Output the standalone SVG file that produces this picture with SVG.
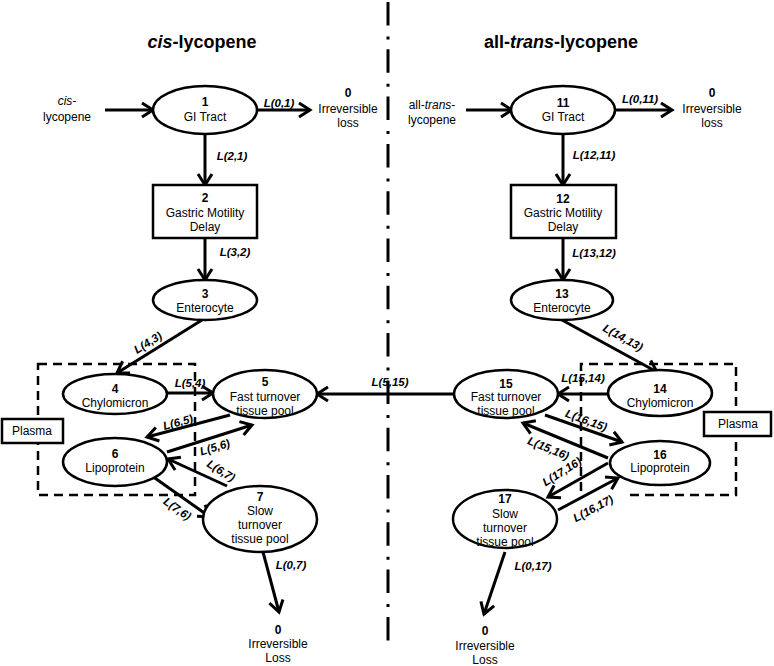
<svg xmlns="http://www.w3.org/2000/svg" width="774" height="666" viewBox="0 0 774 666">
<style>
text{font-family:"Liberation Sans",Arial,sans-serif;fill:#000}
.t{font-size:18px;font-weight:bold;text-anchor:middle}
.n{font-size:12px;text-anchor:middle}
.b{font-weight:bold}
.lbl{font-size:11.5px;font-weight:bold;font-style:italic;text-anchor:middle}
.node ellipse,.node rect{fill:#fff;stroke:#000;stroke-width:2.5}
.ar{stroke:#000;stroke-width:3;fill:none;marker-end:url(#ah)}
.dash{fill:none;stroke:#000;stroke-width:2.5;stroke-dasharray:9 6}
</style>
<defs>
<marker id="ah" markerUnits="userSpaceOnUse" markerWidth="16" markerHeight="18" refX="13" refY="9" orient="auto">
<path d="M2,2 L13,9 L2,16" fill="none" stroke="#000" stroke-width="3"/>
</marker>
</defs>
<rect width="774" height="666" fill="#fff"/>
<line x1="388" y1="2" x2="388" y2="643" stroke="#000" stroke-width="3" stroke-dasharray="23.5 11 3 9.8"/>
<text class="t" x="202" y="48"><tspan font-style="italic">cis</tspan>-lycopene</text>
<text class="t" x="561" y="48">all-<tspan font-style="italic">trans</tspan>-lycopene</text>
<g id="plasma-left">
<rect class="dash" x="38" y="364" width="157" height="131"/>
</g>
<g id="plasma-right">
<path class="dash" d="M630,495 H736 V364 H581 V495"/>
</g>
<g id="connectors">
<line class="ar" x1="105" y1="110" x2="153" y2="110"/>
<line class="ar" x1="257" y1="110" x2="310" y2="110"/>
<line class="ar" x1="205" y1="134" x2="205" y2="185"/>
<line class="ar" x1="205" y1="238" x2="205" y2="280"/>
<line class="ar" x1="202" y1="320" x2="117" y2="373"/>
<line class="ar" x1="167" y1="393" x2="213" y2="393"/>
<line class="ar" x1="455" y1="394" x2="317" y2="394"/>
<line class="ar" x1="230" y1="415" x2="147" y2="437"/>
<line class="ar" x1="167" y1="452" x2="252" y2="425"/>
<line class="ar" x1="227" y1="486" x2="168" y2="459"/>
<line class="ar" x1="152" y1="476" x2="210" y2="517"/>
<line class="ar" x1="263" y1="552" x2="279" y2="612"/>
<line class="ar" x1="466" y1="110" x2="512" y2="110"/>
<line class="ar" x1="615" y1="110" x2="672" y2="110"/>
<line class="ar" x1="563" y1="134" x2="563" y2="185"/>
<line class="ar" x1="563" y1="238" x2="563" y2="280"/>
<line class="ar" x1="562" y1="320" x2="657" y2="372"/>
<line class="ar" x1="608" y1="394" x2="558" y2="394"/>
<line class="ar" x1="545" y1="415" x2="622" y2="442"/>
<line class="ar" x1="608" y1="458" x2="523" y2="423"/>
<line class="ar" x1="608" y1="463" x2="548" y2="497"/>
<line class="ar" x1="558" y1="510" x2="618" y2="478"/>
<line class="ar" x1="505" y1="552" x2="484" y2="614"/>
<text class="lbl" x="279" y="107">L(0,1)</text>
<text class="lbl" x="232" y="160">L(2,1)</text>
<text class="lbl" x="235" y="256">L(3,2)</text>
<text class="lbl" transform="translate(150,346) rotate(-32)">L(4,3)</text>
<text class="lbl" x="190" y="387">L(5,4)</text>
<text class="lbl" x="390" y="386">L(5,15)</text>
<text class="lbl" transform="translate(179,426) rotate(-15)">L(6,5)</text>
<text class="lbl" transform="translate(216,451) rotate(-17)">L(5,6)</text>
<text class="lbl" transform="translate(219,474) rotate(32)">L(6,7)</text>
<text class="lbl" transform="translate(175,512) rotate(35)">L(7,6)</text>
<text class="lbl" x="291" y="569">L(0,7)</text>
<text class="lbl" x="640" y="103">L(0,11)</text>
<text class="lbl" x="594" y="159">L(12,11)</text>
<text class="lbl" x="594" y="257">L(13,12)</text>
<text class="lbl" transform="translate(621,341) rotate(29)">L(14,13)</text>
<text class="lbl" x="583" y="382">L(15,14)</text>
<text class="lbl" transform="translate(585,424) rotate(20)">L(16,15)</text>
<text class="lbl" transform="translate(547,452) rotate(22)">L(15,16)</text>
<text class="lbl" transform="translate(564,475) rotate(-32)">L(17,16)</text>
<text class="lbl" transform="translate(595,512) rotate(-28)">L(16,17)</text>
<text class="lbl" x="533" y="570">L(0,17)</text>
</g>
<g id="input-cis">
<text class="n" x="67" y="105" font-style="italic">cis-</text>
<text class="n" x="67" y="121">lycopene</text>
</g>
<g id="input-trans">
<text class="n" x="432" y="109">all-<tspan font-style="italic">trans</tspan>-</text>
<text class="n" x="432" y="124">lycopene</text>
</g>
<g id="node1" class="node"><ellipse cx="205" cy="110" rx="52" ry="24"/><text class="n b" x="205" y="106">1</text><text class="n" x="205" y="121">GI Tract</text></g>
<g id="node0a"><text class="n b" x="348" y="97">0</text><text class="n" x="348" y="113">Irreversible</text><text class="n" x="348" y="127">loss</text></g>
<g id="node2" class="node"><rect x="153" y="185" width="104" height="53"/><text class="n b" x="205" y="202">2</text><text class="n" x="205" y="217">Gastric Motility</text><text class="n" x="205" y="231">Delay</text></g>
<g id="node3" class="node"><ellipse cx="205" cy="300" rx="52" ry="20"/><text class="n b" x="205" y="298">3</text><text class="n" x="205" y="312">Enterocyte</text></g>
<g id="node4" class="node"><ellipse cx="115" cy="394" rx="52" ry="20"/><text class="n b" x="115" y="393">4</text><text class="n" x="115" y="407">Chylomicron</text></g>
<g id="node5" class="node"><ellipse cx="265" cy="394" rx="52" ry="24"/><text class="n b" x="265" y="386">5</text><text class="n" x="265" y="401">Fast turnover</text><text class="n" x="265" y="415">tissue pool</text></g>
<g id="node6" class="node"><ellipse cx="115" cy="462" rx="52" ry="24"/><text class="n b" x="115" y="458">6</text><text class="n" x="115" y="472">Lipoprotein</text></g>
<g id="node7" class="node"><ellipse cx="260" cy="519" rx="57" ry="33"/><text class="n b" x="260" y="501">7</text><text class="n" x="260" y="515">Slow</text><text class="n" x="260" y="529">turnover</text><text class="n" x="260" y="543">tissue pool</text></g>
<g id="node0b"><text class="n b" x="278" y="634">0</text><text class="n" x="278" y="648">Irreversible</text><text class="n" x="278" y="662">Loss</text></g>
<g id="plasmaL" class="node"><rect x="2" y="419" width="61" height="24" stroke-width="2"/><text class="n" x="32" y="435">Plasma</text></g>
<g id="node11" class="node"><ellipse cx="563" cy="110" rx="52" ry="24"/><text class="n b" x="563" y="107">11</text><text class="n" x="563" y="121">GI Tract</text></g>
<g id="node0c"><text class="n b" x="712" y="97">0</text><text class="n" x="712" y="113">Irreversible</text><text class="n" x="712" y="127">loss</text></g>
<g id="node12" class="node"><rect x="511" y="185" width="105" height="53"/><text class="n b" x="563" y="203">12</text><text class="n" x="563" y="217">Gastric Motility</text><text class="n" x="563" y="231">Delay</text></g>
<g id="node13" class="node"><ellipse cx="562" cy="300" rx="51" ry="20"/><text class="n b" x="562" y="298">13</text><text class="n" x="562" y="312">Enterocyte</text></g>
<g id="node14" class="node"><ellipse cx="660" cy="393" rx="52" ry="23"/><text class="n b" x="660" y="393">14</text><text class="n" x="660" y="407">Chylomicron</text></g>
<g id="node15" class="node"><ellipse cx="506" cy="394" rx="52" ry="24"/><text class="n b" x="506" y="388">15</text><text class="n" x="506" y="401">Fast turnover</text><text class="n" x="506" y="415">tissue pool</text></g>
<g id="node16" class="node"><ellipse cx="660" cy="463" rx="50" ry="22"/><text class="n b" x="660" y="459">16</text><text class="n" x="660" y="472">Lipoprotein</text></g>
<g id="node17" class="node"><ellipse cx="505" cy="519" rx="52" ry="29"/><text class="n b" x="505" y="503">17</text><text class="n" x="505" y="518">Slow</text><text class="n" x="505" y="532">turnover</text><text class="n" x="505" y="546">tissue pool</text></g>
<g id="node0d"><text class="n b" x="485" y="635">0</text><text class="n" x="485" y="650">Irreversible</text><text class="n" x="485" y="664">Loss</text></g>
<g id="plasmaR" class="node"><rect x="704" y="412" width="67" height="24" stroke-width="2"/><text class="n" x="738" y="428">Plasma</text></g>
</svg>
